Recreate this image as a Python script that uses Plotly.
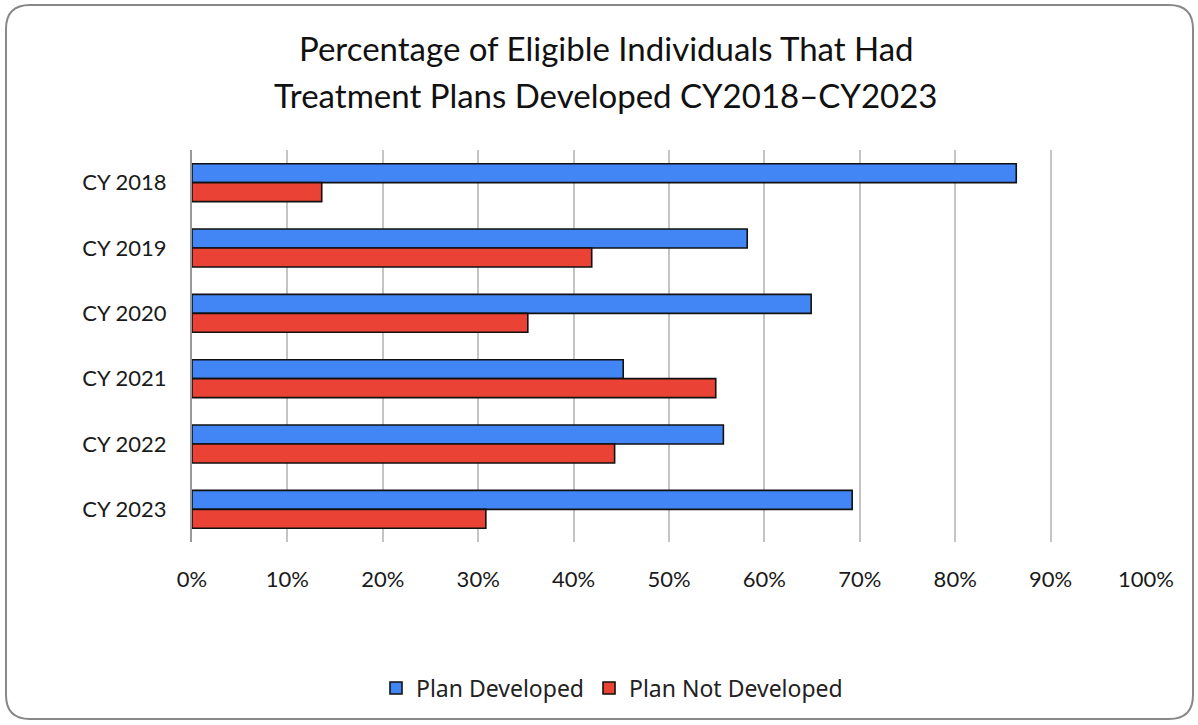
import plotly.graph_objects as go

categories = ["CY 2018", "CY 2019", "CY 2020", "CY 2021", "CY 2022", "CY 2023"]
plan_developed = [86.4, 58.2, 64.9, 45.2, 55.7, 69.2]
plan_not_developed = [13.6, 41.9, 35.2, 54.9, 44.3, 30.8]
x_ticks = [0, 10, 20, 30, 40, 50, 60, 70, 80, 90, 100]
x_tick_labels = [f"{v}%" for v in x_ticks]

W, H = 1198, 725
L, R, T, B = 192, 52, 150, 183
pw, ph = W - L - R, H - T - B

def px(x):
    return (x - L) / pw

def py(y):
    return (H - B - y) / ph

fig = go.Figure()
fig.add_trace(go.Bar(
    y=categories, x=plan_developed, orientation="h", name="Plan Developed",
    marker=dict(color="#4285F4", line=dict(color="#111111", width=1.6)),
))
fig.add_trace(go.Bar(
    y=categories, x=plan_not_developed, orientation="h", name="Plan Not Developed",
    marker=dict(color="#EA4335", line=dict(color="#111111", width=1.6)),
))

# rounded border
x0, x1, y0, y1, r = 6, 1193, 5, 719, 24
path = (
    f"M {px(x0 + r)} {py(y0)} L {px(x1 - r)} {py(y0)} "
    f"Q {px(x1)} {py(y0)} {px(x1)} {py(y0 + r)} "
    f"L {px(x1)} {py(y1 - r)} Q {px(x1)} {py(y1)} {px(x1 - r)} {py(y1)} "
    f"L {px(x0 + r)} {py(y1)} Q {px(x0)} {py(y1)} {px(x0)} {py(y1 - r)} "
    f"L {px(x0)} {py(y0 + r)} Q {px(x0)} {py(y0)} {px(x0 + r)} {py(y0)} Z"
)

fig.update_layout(
    width=W, height=H,
    margin=dict(l=L, r=R, t=T, b=B, autoexpand=False),
    paper_bgcolor="white", plot_bgcolor="white",
    barmode="group", bargap=0.42, bargroupgap=0,
    font=dict(family="Lato, 'Liberation Sans', sans-serif", color="#1a1a1a", size=22),
    showlegend=True,
    legend=dict(orientation="h", x=px(612), xanchor="center", y=py(688), yanchor="middle",
                font=dict(family="'Noto Sans', 'Open Sans', sans-serif", size=23, color="#222222"),
                itemwidth=30, traceorder="normal"),
    shapes=[dict(type="path", xref="paper", yref="paper", path=path,
                 line=dict(color="#888888", width=2), layer="below")],
    annotations=[
        dict(text="Percentage of Eligible Individuals That Had", xref="paper", yref="paper",
             x=px(606), y=py(48), xanchor="center", yanchor="middle", showarrow=False,
             font=dict(size=33, color="#111111")),
        dict(text="Treatment Plans Developed CY2018\u2013CY2023", xref="paper", yref="paper",
             x=px(606), y=py(95), xanchor="center", yanchor="middle", showarrow=False,
             font=dict(size=33, color="#111111")),
    ],
)
fig.update_xaxes(range=[0, 100], tickvals=x_ticks, ticktext=x_tick_labels,
                 showgrid=True, gridcolor="#c4c4c4", gridwidth=2, zeroline=False,
                 showline=False, ticks="", ticklen=0, tickfont=dict(size=22), ticklabelstandoff=22)
fig.update_yaxes(categoryorder="array", categoryarray=categories, autorange="reversed",
                 showline=True, linecolor="#999999", linewidth=2, ticks="",
                 tickfont=dict(size=22), ticklabelstandoff=19)
fig.write_html("out.html")
